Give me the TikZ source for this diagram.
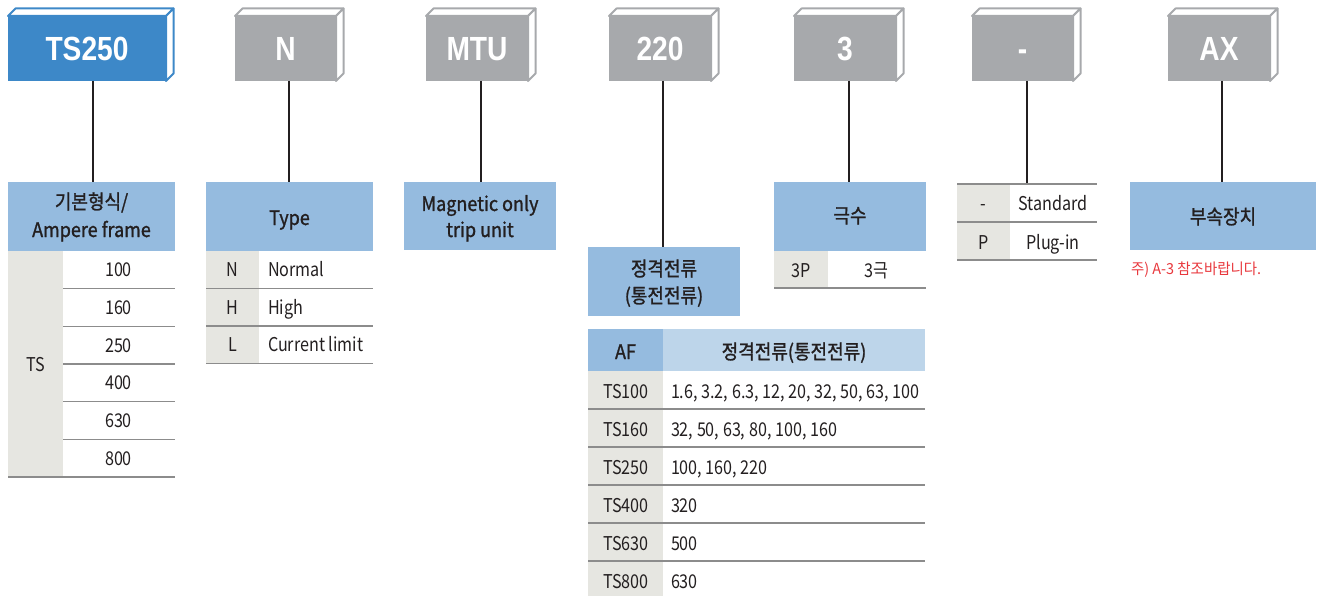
\documentclass[tikz,border=0pt]{standalone}
\usepackage{fontspec}
\setmainfont{Noto Sans CJK KR}[FakeStretch=0.85]
\newfontfamily\hdfont{Noto Sans CJK KR}[FakeStretch=0.9,FakeBold=1.2]
\newfontfamily\notefont{Noto Sans CJK KR}[FakeStretch=0.95]
\newfontfamily\boxfont{Liberation Sans}[FakeStretch=0.84]
\definecolor{boxblue}{HTML}{3D88C8}
\definecolor{boxgrey}{HTML}{A7A9AC}
\definecolor{hdblue}{HTML}{95BBDF}
\definecolor{hdlight}{HTML}{BDD5EA}
\definecolor{cellgray}{HTML}{E6E6E1}
\definecolor{rulec}{HTML}{8C8C8C}
\definecolor{txtc}{HTML}{231F20}
\definecolor{notered}{HTML}{E8383D}
\newcommand\cubefaces[2]{%
  \draw[facestyle, draw=#2] (#1.north west) -- ++(7.5,-7.5) -- ([shift={(7.5,-7.5)}]#1.north east) -- (#1.north east) -- cycle;
  \draw[facestyle, draw=#2] (#1.north east) -- ++(7.5,-7.5) -- ([shift={(7.5,-7.5)}]#1.south east) -- (#1.south east) -- cycle;}
\tikzset{
  facestyle/.style={fill=white, line width=2pt, line join=round},
  cubefront/.style={minimum height=65pt, text=white, text height=24pt, text depth=0pt,
    font=\boxfont\bfseries\fontsize{33.5}{33.5}\selectfont},
  hdr/.style={fill=hdblue, anchor=north west},
  tx/.style={anchor=base, text=txtc, font=\fontsize{19}{21}\selectfont},
  txl/.style={tx, anchor=base west},
  hd/.style={anchor=base, text=txtc, font=\hdfont\fontsize{20}{22}\selectfont},
  rowrule/.style={draw=rulec, line width=1.4pt},
  conn/.style={draw=txtc, line width=1.1pt}
}
\begin{document}
\begin{tikzpicture}[x=1pt, y=-1pt, every node/.style={inner sep=0pt, outer sep=0pt}]
\useasboundingbox (0,0) rectangle (1324,596);

% ---- code boxes ----
\node[cubefront, fill=boxblue, minimum width=158pt] (b1) at (87,48.5) {TS250};
\node[cubefront, fill=boxgrey, minimum width=101pt] (b2) at (285.5,48.5) {N};
\node[cubefront, fill=boxgrey, minimum width=102pt] (b3) at (477,48.5) {MTU};
\node[cubefront, fill=boxgrey, minimum width=102pt] (b4) at (660,48.5) {220};
\node[cubefront, fill=boxgrey, minimum width=102pt] (b5) at (845,48.5) {3};
\node[cubefront, fill=boxgrey, minimum width=101pt] (b6) at (1022.5,48.5) {-};
\node[cubefront, fill=boxgrey, minimum width=102pt] (b7) at (1219,48.5) {AX};
\cubefaces{b1}{boxblue}
\cubefaces{b2}{boxgrey}
\cubefaces{b3}{boxgrey}
\cubefaces{b4}{boxgrey}
\cubefaces{b5}{boxgrey}
\cubefaces{b6}{boxgrey}
\cubefaces{b7}{boxgrey}

% ---- headers ----
\node[hdr, minimum width=167pt, minimum height=69pt] (h1) at (8,182) {};
\node[hdr, minimum width=167pt, minimum height=69pt] (h2) at (206,182) {};
\node[hdr, minimum width=152pt, minimum height=68pt] (h3) at (404,182) {};
\node[hdr, minimum width=152pt, minimum height=69pt] (h4) at (588,247) {};
\node[hdr, minimum width=152pt, minimum height=69pt] (h5) at (774,182) {};
\node[anchor=north west, minimum width=140pt, minimum height=76pt] (h6) at (957,184) {};
\node[hdr, minimum width=186pt, minimum height=68pt] (h7) at (1130,182) {};

% ---- connectors ----
\path ([xshift=6pt]b1.south) coordinate (c1);
\path ([xshift=3.5pt]b2.south) coordinate (c2);
\path ([xshift=4pt]b3.south) coordinate (c3);
\path ([xshift=3pt]b4.south) coordinate (c4);
\path ([xshift=4pt]b5.south) coordinate (c5);
\path ([xshift=4.5pt]b6.south) coordinate (c6);
\path ([xshift=3pt]b7.south) coordinate (c7);
\draw[conn] (c1) -- (c1 |- h1.north);
\draw[conn] (c2) -- (c2 |- h2.north);
\draw[conn] (c3) -- (c3 |- h3.north);
\draw[conn] (c4) -- (c4 |- h4.north);
\draw[conn] (c5) -- (c5 |- h5.north);
\draw[conn] (c6) -- (c6 |- h6.north);
\draw[conn] (c7) -- (c7 |- h7.north);

% ---- table 1 ----
\node[hd] (h1a) at (91.5,209) {기본형식/};
\node[hd] (h1b) at (91.5,237) {Ampere frame};
\fill[cellgray] (8,251) rectangle (63,477);
\node[tx] (ts) at (35.5,371) {TS};
\foreach \v [count=\i] in {100,160,250,400,630,800}
  {\node[tx] (f\i) at (118.5,{232.17+37.67*\i+7}) {\v};}
\foreach \i in {1,...,5}
  {\draw[rowrule] (63,{251+37.67*\i}) -- (175,{251+37.67*\i});}
\draw[rowrule] (8,477) -- (175,477);

% ---- table 2 ----
\node[hd] (h2a) at (289.5,225) {Type};
\fill[cellgray] (206,251) rectangle (259,363.5);
\node[tx] (t2a) at (232.5,276.5) {N};
\node[txl] (t2b) at (268,276.5) {Normal};
\node[tx] (t2c) at (232.5,314) {H};
\node[txl] (t2d) at (268,314) {High};
\node[tx] (t2e) at (232.5,351.5) {L};
\node[txl] (t2f) at (268,351.5) {Current limit};
\draw[rowrule] (206,288.5) -- (373,288.5);
\draw[rowrule] (206,326) -- (373,326);
\draw[rowrule] (206,363.5) -- (373,363.5);

% ---- table 3 ----
\node[hd] (h3a) at (480,211) {Magnetic only};
\node[hd] (h3b) at (480,237) {trip unit};

% ---- table 4 ----
\node[hd] (h4a) at (664,276) {정격전류};
\node[hd] (h4b) at (664,303) {(통전전류)};
\fill[hdblue] (588,329) rectangle (663,371);
\fill[hdlight] (663,329) rectangle (925,371);
\node[hd] (afh) at (625.5,359) {AF};
\node[hd] (afv) at (794,359) {정격전류(통전전류)};
\fill[cellgray] (588,371) rectangle (663,596);
\node[tx] (r1a) at (626,398) {TS100};
\node[txl] (r1b) at (671,398) {1.6, 3.2, 6.3, 12, 20, 32, 50, 63, 100};
\node[tx] (r2a) at (626,436) {TS160};
\node[txl] (r2b) at (671,436) {32, 50, 63, 80, 100, 160};
\node[tx] (r3a) at (626,474) {TS250};
\node[txl] (r3b) at (671,474) {100, 160, 220};
\node[tx] (r4a) at (626,512) {TS400};
\node[txl] (r4b) at (671,512) {320};
\node[tx] (r5a) at (626,550) {TS630};
\node[txl] (r5b) at (671,550) {500};
\node[tx] (r6a) at (626,588) {TS800};
\node[txl] (r6b) at (671,588) {630};
\foreach \y in {409,447,485,523,561}
  {\draw[rowrule] (588,\y) -- (925,\y);}

% ---- table 5 ----
\node[hd] (h5a) at (850,223) {극수};
\fill[cellgray] (774,251) rectangle (828,288);
\node[tx] (p1) at (801,277.5) {3P};
\node[tx] (p2) at (876,277.5) {3극};
\draw[rowrule] (774,288) -- (926,288);

% ---- table 6 ----
\fill[cellgray] (957,184) rectangle (1010,260);
\draw[rowrule] (957,184) -- (1097,184);
\draw[rowrule] (957,222) -- (1097,222);
\draw[rowrule] (957,260) -- (1097,260);
\node[tx] (s1) at (983.5,211) {-};
\node[tx] (s2) at (1053,211) {Standard};
\node[tx] (s3) at (983.5,249) {P};
\node[tx] (s4) at (1053,249) {Plug-in};

% ---- table 7 ----
\node[hd] (h7a) at (1223,224) {부속장치};
\node[anchor=base west, text=notered, font=\notefont\fontsize{15.2}{17}\selectfont] (note) at (1131,274) {주) A-3 참조바랍니다.};
\end{tikzpicture}
\end{document}
